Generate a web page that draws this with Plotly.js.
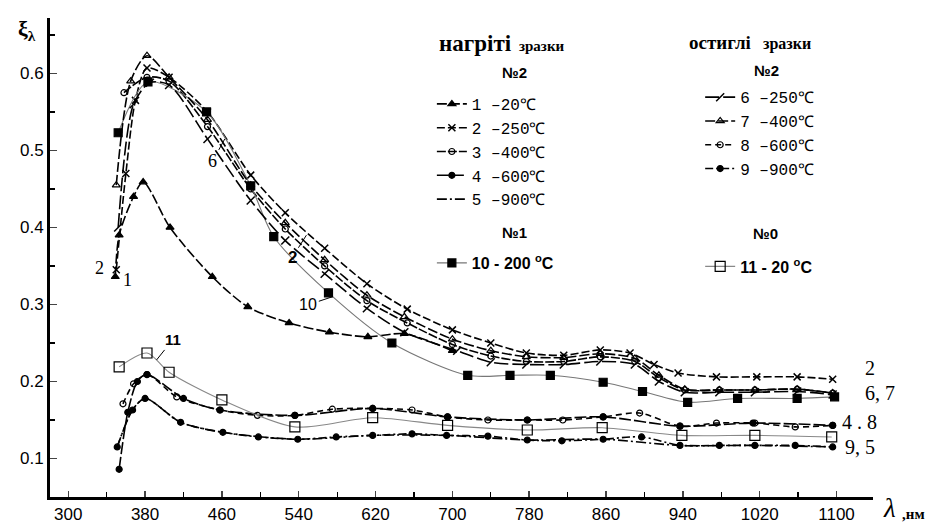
<!DOCTYPE html>
<html><head><meta charset="utf-8">
<script src="https://cdn.plot.ly/plotly-3.0.1.min.js"></script>
<style>body{margin:0;background:#fff}#c{width:933px;height:524px}</style>
</head><body><div id="c"></div>
<script>
// ---- data ----
const xTicks = [300,380,460,540,620,700,780,860,940,1020,1100];
const yTicks = [0.1,0.2,0.3,0.4,0.5,0.6];

const x1 = [349,353,368,378,406,450,487,530,572,612,650,700];
const y1 = [0.336,0.39,0.44,0.459,0.40,0.336,0.297,0.276,0.264,0.258,0.262,0.24];

const x2 = [350,360,370,382,405,445,490,526,567,611,653,700,740,777,816,854,885,910,935,975,1017,1059,1096];
const y2 = [0.345,0.47,0.565,0.607,0.595,0.55,0.468,0.419,0.373,0.327,0.294,0.267,0.25,0.237,0.234,0.241,0.237,0.222,0.211,0.206,0.206,0.206,0.203];

const x3 = [358,382,405,445,490,526,567,611,653,700,740,777,816,854,890,915,942,978,1015,1059,1096];
const y3 = [0.575,0.595,0.59,0.531,0.45,0.398,0.35,0.305,0.276,0.248,0.233,0.226,0.226,0.232,0.226,0.205,0.189,0.189,0.189,0.19,0.185];

const x4 = [353,362,372,382,420,458,536,617,695,778,857,937,1013,1096];
const y4 = [0.086,0.16,0.2,0.209,0.178,0.163,0.156,0.165,0.154,0.150,0.154,0.142,0.146,0.143];

const x5 = [351,367,380,417,461,539,617,694,778,857,937,1015,1096];
const y5 = [0.115,0.163,0.178,0.147,0.134,0.125,0.130,0.130,0.124,0.125,0.117,0.117,0.115];

const x6 = [352,368,385,405,445,490,526,567,611,650,705,740,777,816,854,890,915,942,978,1015,1059,1096];
const y6 = [0.40,0.56,0.588,0.585,0.515,0.435,0.383,0.34,0.295,0.264,0.240,0.225,0.222,0.222,0.226,0.222,0.20,0.186,0.186,0.186,0.187,0.183];

const x7 = [350,365,382,405,445,490,526,567,611,650,700,740,777,816,854,890,915,942,978,1015,1059,1096];
const y7 = [0.455,0.59,0.623,0.595,0.54,0.455,0.406,0.358,0.312,0.284,0.255,0.24,0.232,0.231,0.236,0.23,0.208,0.19,0.189,0.189,0.19,0.185];

const x8 = [357,368,382,413,458,497,536,575,617,658,695,737,778,815,857,895,937,975,1015,1057,1096];
const y8 = [0.171,0.197,0.209,0.180,0.163,0.156,0.156,0.164,0.165,0.163,0.154,0.150,0.150,0.150,0.154,0.159,0.142,0.146,0.146,0.141,0.143];

const x9 = [351,367,380,417,461,498,539,579,617,658,694,737,778,814,857,897,937,978,1015,1057,1096];
const y9 = [0.115,0.163,0.178,0.147,0.134,0.128,0.125,0.128,0.130,0.132,0.130,0.129,0.124,0.123,0.125,0.128,0.117,0.117,0.117,0.117,0.115];

const x10 = [352,383,444,490,514,571,637,716,760,802,857,898,945,997,1059,1098];
const y10 = [0.523,0.589,0.550,0.454,0.388,0.315,0.250,0.208,0.208,0.208,0.199,0.187,0.173,0.178,0.178,0.180];

const x11 = [353,382,405,460,536,617,695,778,856,939,1015,1095];
const y11 = [0.219,0.237,0.212,0.176,0.141,0.153,0.143,0.137,0.140,0.130,0.130,0.128];

const names = ['1 –20℃','2 –250℃','3 –400℃','4 –600℃','5 –900℃',
  '6 –250℃','7 –400℃','8 –600℃','9 –900℃',
  '<span style="font-family:Liberation Sans,Arial,sans-serif"><b>10 - 200 <sup>o</sup>C</b></span>',
  '<span style="font-family:Liberation Sans,Arial,sans-serif"><b>11 - 20 <sup>o</sup>C</b></span>'];

// ---- styles ----
function tr(i, xs, ys, dash, sym, msize, opt){
  opt = opt || {};
  const t = {
    x: xs, y: ys, name: names[i], type:'scatter',
    mode: sym ? 'lines+markers' : 'lines',
    line: {color: opt.color || '#000', width: opt.width || 1.6, dash: dash, shape:'spline', smoothing:0.8},
    legend: opt.legend || 'legend', legendgroup: opt.group, legendrank: i+1,
    cliponaxis: false
  };
  if (sym) t.marker = {symbol: sym, size: msize, color:'#000', line:{color:'#000', width: opt.mlw || 1.2}};
  return t;
}
const data = [
  tr(0,x1,y1,'10px,3px','triangle-up',7,{group:'a'}),
  tr(1,x2,y2,'8px,3px','x-thin',7,{group:'a',mlw:1.5}),
  tr(2,x3,y3,'9px,2px','circle-open',6,{group:'a'}),
  tr(3,x4,y4,'12px,3px','circle',6,{group:'a'}),
  tr(4,x5,y5,'10px,3px,2px,3px',null,0,{group:'a'}),
  tr(9,x10,y10,'solid','square',8,{group:'b',color:'#777',width:1.1}),
  tr(5,x6,y6,'14px,4px','line-ne',8,{group:'c',legend:'legend2',mlw:1.5}),
  tr(6,x7,y7,'10px,3px','triangle-up-open',7,{group:'c',legend:'legend2'}),
  tr(7,x8,y8,'6px,4px','circle-open',6,{group:'c',legend:'legend2'}),
  tr(8,x9,y9,'8px,3px,2px,3px','circle',6,{group:'c',legend:'legend2'}),
  tr(10,x11,y11,'solid','square-open',10,{group:'d',legend:'legend2',color:'#888',width:1.1})
];

const F = 'Liberation Sans, Arial, sans-serif';
const S = 'Liberation Serif, Times New Roman, serif';
const M = 'Liberation Mono, DejaVu Sans Mono, monospace';
function pa(x, y, text, font, xa){
  return {xref:'paper',yref:'paper',x:x,y:y,text:text,showarrow:false,xanchor:xa||'center',yanchor:'middle',font:font};
}
function da(x, y, text, font, ax, ay){
  const a = {x:x,y:y,text:text,font:font,xanchor:'center',yanchor:'middle'};
  if (ax !== undefined){ a.showarrow=true; a.ax=ax; a.ay=ay; a.arrowhead=0; a.arrowwidth=1; a.arrowcolor='#000'; }
  else a.showarrow=false;
  return a;
}
const ann = [
  pa(-0.028,0.975,'<b>ξ<sub>λ</sub></b>',{family:S,size:22,color:'#000'}),
  pa(1.0195,-0.022,'<i>λ</i>',{family:S,size:27,color:'#000'}),
  pa(1.049,-0.035,'<b>,нм</b>',{family:S,size:15,color:'#000'}),
  pa(0.470,0.946,'<b>нагріті</b>',{family:S,size:23,color:'#000'},'left'),
  pa(0.568,0.942,'<b>зразки</b>',{family:S,size:15,color:'#000'},'left'),
  pa(0.565,0.887,'<b>№2</b>',{family:F,size:15,color:'#000'}),
  pa(0.564,0.553,'<b>№1</b>',{family:F,size:15,color:'#000'}),
  pa(0.774,0.948,'<b>остиглі</b>',{family:S,size:19,color:'#000'},'left'),
  pa(0.864,0.946,'<b>зразки</b>',{family:S,size:16,color:'#000'},'left'),
  pa(0.870,0.891,'<b>№2</b>',{family:F,size:15,color:'#000'}),
  pa(0.869,0.551,'<b>№0</b>',{family:F,size:15,color:'#000'}),
  // curve labels at the right end
  pa(0.9964,0.2693,'2',{family:S,size:20,color:'#000'}),
  pa(1.0085,0.2171,'6, 7',{family:S,size:20,color:'#000'}),
  pa(0.984,0.1566,'4 . 8',{family:S,size:20,color:'#000'}),
  pa(0.984,0.1044,'9, 5',{family:S,size:20,color:'#000'}),
  // curve labels inside
  da(333,0.347,'2',{family:S,size:18,color:'#000'}),
  da(362,0.332,'1',{family:S,size:18,color:'#000'}),
  da(463,0.515,'6',{family:S,size:18,color:'#000'},-12,22),
  da(548,0.39,'<b>2</b>',{family:F,size:17,color:'#000'},-14,22),
  da(575,0.31,'10',{family:F,size:16,color:'#000'},-24,8),
  da(392,0.228,'<b>11</b>',{family:F,size:15,color:'#000'},16,-20)
];

const layout = {
  width:933, height:524,
  margin:{l:50,r:60,t:18,b:27},
  paper_bgcolor:'#fff', plot_bgcolor:'#fff',
  font:{family:F,color:'#000'},
  showlegend:true,
  legend:{x:0.464,y:0.856,xanchor:'left',yanchor:'top',bgcolor:'rgba(0,0,0,0)',
    font:{family:M,size:16,color:'#000'},tracegroupgap:40,itemwidth:30,traceorder:'grouped'},
  legend2:{x:0.790,y:0.870,xanchor:'left',yanchor:'top',bgcolor:'rgba(0,0,0,0)',
    font:{family:M,size:16,color:'#000'},tracegroupgap:74,itemwidth:30,traceorder:'grouped'},
  xaxis:{range:[281,1138],tickvals:xTicks,ticktext:xTicks.map(String),ticks:'inside',ticklen:6,tickwidth:1.5,
    showline:true,linewidth:3,linecolor:'#000',showgrid:false,zeroline:false,
    minor:{tick0:300,dtick:40,ticks:'inside',ticklen:5,tickwidth:1.2,tickcolor:'#000'},
    tickfont:{family:F,size:17,color:'#000'}},
  yaxis:{range:[0.05,0.672],tickvals:yTicks,ticktext:yTicks.map(v=>v.toFixed(1)),ticks:'inside',ticklen:7,tickwidth:1.5,
    showline:true,linewidth:3,linecolor:'#000',showgrid:false,zeroline:false,
    minor:{tick0:0.05,dtick:0.05,ticks:'inside',ticklen:5,tickwidth:1.2,tickcolor:'#000'},
    tickfont:{family:F,size:17,color:'#000'}},
  annotations:ann
};
Plotly.newPlot('c', data, layout, {displayModeBar:false, staticPlot:true});
</script></body></html>
